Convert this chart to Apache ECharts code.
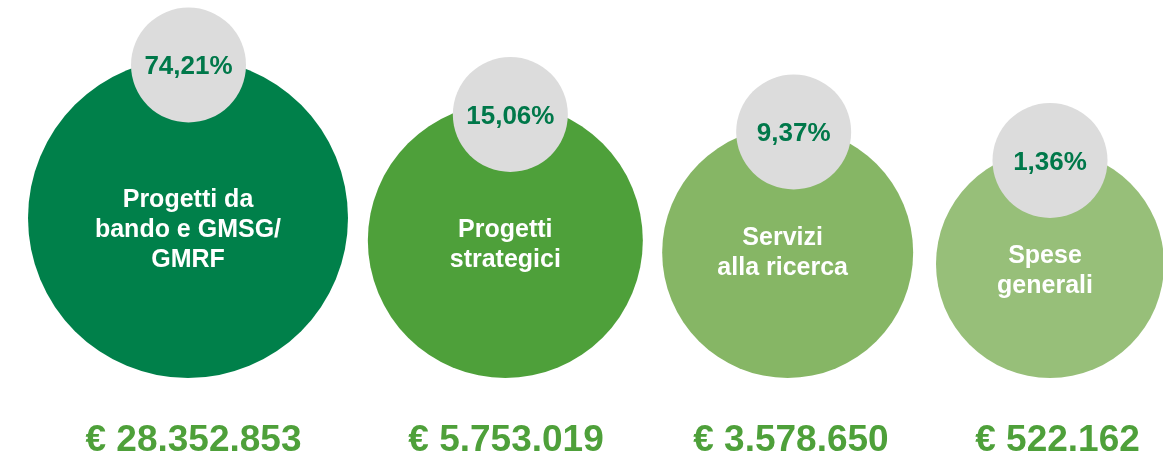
<!DOCTYPE html>
<html>
<head>
<meta charset="utf-8">
<script src="https://cdn.jsdelivr.net/npm/echarts@6/dist/echarts.min.js"></script>
<style>
html,body{margin:0;padding:0;background:#fff;}
#chart{width:1163px;height:461px;}
</style>
</head>
<body>
<div id="chart"></div>
<script>
// ---- data ----
const categories = ['Progetti da\nbando e GMSG/\nGMRF', 'Progetti\nstrategici', 'Servizi\nalla ricerca', 'Spese\ngenerali'];
const shares = [74.21, 15.06, 9.37, 1.36];
const amounts = [28352853, 5753019, 3578650, 522162];

// ---- styling ----
const bubbleColors = ['#00804A', '#4EA03A', '#86B665', '#97BF79'];
const bubbleDiam = [320, 275, 251, 228];
const bubbleShift = [0, 30, 25, 0];
const badgeShift = [[0.5, -313], [35, -263.5], [31, -246], [0, -217.5]];
const nameShift = [[0, 12], [0, 5], [-5, 0.5], [-5, 7.5]];
const amountShift = [5.5, 30.7, 28.3, 7.5];
const FONT = '"Liberation Sans", Arial, Helvetica, sans-serif';

function fmtAmount(n) { return '€ ' + String(n).replace(/\B(?=(\d{3})+(?!\d))/g, '.'); }
function fmtShare(v) { return v.toFixed(2).replace('.', ',') + '%'; }

const chart = echarts.init(document.getElementById('chart'), null, { renderer: 'canvas' });

const bubbles = categories.map((c, i) => ({
  value: [c, 0],
  symbolSize: bubbleDiam[i],
  symbolOffset: [bubbleShift[i], -bubbleDiam[i] / 2],
  itemStyle: { color: bubbleColors[i], opacity: 1 },
  label: { offset: nameShift[i] }
}));

const badges = categories.map((c, i) => ({
  value: [c, 0, shares[i]],
  symbolSize: 115,
  symbolOffset: badgeShift[i]
}));

const totals = categories.map((c, i) => ({
  value: [c, 0, amounts[i]],
  label: { offset: [amountShift[i], 63] }
}));

chart.setOption({
  animation: false,
  backgroundColor: '#ffffff',
  grid: { left: 188, right: 113, top: 0, bottom: 83 },
  xAxis: { type: 'category', data: categories, boundaryGap: false, show: false },
  yAxis: { type: 'value', min: 0, max: 1, show: false },
  series: [
    {
      type: 'scatter', z: 2, clip: false, symbol: 'circle', silent: true,
      data: bubbles,
      itemStyle: { opacity: 1 },
      label: {
        show: true, position: 'inside', color: '#ffffff',
        fontFamily: FONT, fontWeight: 'bold', fontSize: 25, lineHeight: 30,
        formatter: p => categories[p.dataIndex]
      },
      emphasis: { disabled: true }
    },
    {
      type: 'scatter', z: 3, clip: false, symbol: 'circle', silent: true,
      data: badges,
      itemStyle: { color: '#DCDCDC', opacity: 1 },
      label: {
        show: true, position: 'inside', color: '#00784A', offset: [0, 2],
        fontFamily: FONT, fontWeight: 'bold', fontSize: 26,
        formatter: p => fmtShare(shares[p.dataIndex])
      },
      emphasis: { disabled: true }
    },
    {
      type: 'scatter', z: 4, clip: false, symbol: 'circle', symbolSize: 1, silent: true,
      data: totals,
      itemStyle: { color: 'rgba(0,0,0,0)', opacity: 1 },
      label: {
        show: true, position: 'inside', color: '#4EA03A',
        fontFamily: FONT, fontWeight: 'bold', fontSize: 37,
        formatter: p => fmtAmount(amounts[p.dataIndex])
      },
      emphasis: { disabled: true }
    }
  ]
});
</script>
</body>
</html>
